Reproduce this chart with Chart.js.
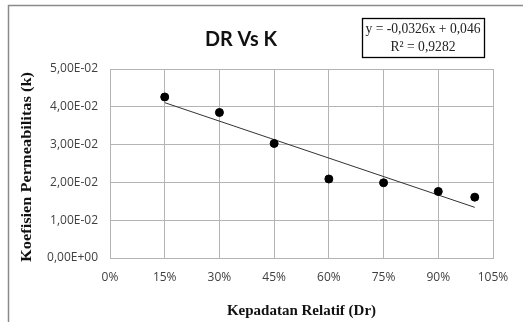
<!DOCTYPE html>
<html>
<head>
<meta charset="utf-8">
<script src="https://cdn.jsdelivr.net/npm/chart.js@4"></script>
<style>
html,body{margin:0;padding:0;background:#fff;}
#wrap{width:523px;height:322px;position:relative;}
</style>
</head>
<body>
<div id="wrap"><canvas id="c" width="523" height="322"></canvas></div>
<script>
// Data
const drValues = [0.15, 0.30, 0.45, 0.60, 0.75, 0.90, 1.00];
const kValues  = [0.0426, 0.0385, 0.0303, 0.0209, 0.0199, 0.0176, 0.0161];
const trendX = [0.15, 1.00];
const trendY = [0.0411, 0.0134];
const xTicks = [0, 0.15, 0.30, 0.45, 0.60, 0.75, 0.90, 1.05];
const yTicks = [0, 0.01, 0.02, 0.03, 0.04, 0.05];
const chartTitle = 'DR Vs K';
const equationLines = ['y = -0,0326x + 0,046', 'R\u00B2 = 0,9282'];
const xTitle = 'Kepadatan Relatif (Dr)';
const yTitle = 'Koefisien Permeabilitas (k)';

function fmtExp(v){
  if (Math.abs(v) < 1e-12) return '0,00E+00';
  let s = v.toExponential(2);
  let [m, e] = s.split('e');
  let sign = e[0] === '-' ? '-' : '+';
  let n = Math.abs(parseInt(e, 10));
  return m.replace('.', ',') + 'E' + sign + (n < 10 ? '0' + n : n);
}

function drawFitted(ctx, text, cx, cy, targetW, rot){
  const w = ctx.measureText(text).width;
  ctx.save();
  ctx.translate(cx, cy);
  if (rot) ctx.rotate(rot);
  ctx.scale(targetW / w, 1);
  ctx.fillText(text, 0, 0);
  ctx.restore();
}

const decor = {
  id: 'decor',
  beforeDraw(chart){
    const ctx = chart.ctx;
    ctx.save();
    ctx.fillStyle = '#fff';
    ctx.fillRect(0,0,chart.width,chart.height);
    ctx.strokeStyle = '#8a8a8a';
    ctx.lineWidth = 1.5;
    ctx.beginPath();
    ctx.moveTo(8.5, 323);
    ctx.lineTo(8.5, 5.5);
    ctx.lineTo(524, 5.5);
    ctx.stroke();
    ctx.restore();
  },
  afterDraw(chart){
    const ctx = chart.ctx;
    ctx.save();
    ctx.textAlign = 'center';
    ctx.textBaseline = 'middle';
    ctx.fillStyle = '#111';
    ctx.font = 'bold 20px Lato';
    drawFitted(ctx, chartTitle, 241, 39.5, 72, 0);
    // y axis title
    ctx.font = 'bold 15px "Liberation Serif"';
    drawFitted(ctx, yTitle, 27, 167, 190, -Math.PI/2);
    // equation box
    ctx.strokeStyle = '#000';
    ctx.lineWidth = 1.3;
    ctx.strokeRect(362.5, 18.5, 122, 39);
    ctx.font = '14px "Liberation Serif"';
    ctx.fillStyle = '#222';
    drawFitted(ctx, equationLines[0], 423, 29.5, 115, 0);
    drawFitted(ctx, equationLines[1], 423, 47, 65, 0);
    ctx.restore();
  }
};

new Chart(document.getElementById('c'), {
  type: 'scatter',
  data: {
    datasets: [
      {
        type: 'line',
        data: trendX.map((x,i)=>({x:x, y:trendY[i]})),
        borderColor: '#333',
        borderWidth: 1,
        pointRadius: 0,
        fill: false,
        order: 2
      },
      {
        data: drValues.map((x,i)=>({x:x, y:kValues[i]})),
        backgroundColor: '#000',
        borderColor: '#000',
        pointRadius: 4,
        order: 1
      }
    ]
  },
  options: {
    responsive: false,
    animation: false,
    devicePixelRatio: 1,
    layout: { padding: { left: 0, top: 69, right: 30, bottom: 0 } },
    plugins: { legend: {display:false}, tooltip: {enabled:false}, title:{display:false} },
    scales: {
      x: {
        type: 'linear',
        min: 0, max: 1.05,
        afterBuildTicks(scale){ scale.ticks = xTicks.map(v=>({value:v})); },
        afterFit(scale){ scale.height = 322 - 258; },
        grid: { color: '#b4b4b4', drawTicks: false, lineWidth: 1 },
        border: { color: '#b4b4b4' },
        ticks: {
          padding: 12,
          color: '#404040',
          font: { family: 'Open Sans', size: 12 },
          callback: v => Math.round(v*100) + '%'
        },
        title: {
          display: true,
          text: xTitle,
          color: '#111',
          font: { family: 'Liberation Serif', size: 15, weight: 'bold' },
          padding: { top: 4, bottom: 2 }
        }
      },
      y: {
        type: 'linear',
        min: 0, max: 0.05,
        afterBuildTicks(scale){ scale.ticks = yTicks.map(v=>({value:v})); },
        afterFit(scale){ scale.width = 110; },
        grid: { color: '#b4b4b4', drawTicks: false, lineWidth: 1 },
        border: { color: '#b4b4b4' },
        ticks: {
          padding: 12,
          color: '#404040',
          font: { family: 'Open Sans', size: 12 },
          callback: v => fmtExp(v)
        },
        title: { display: false }
      }
    }
  },
  plugins: [decor]
});
</script>
</body>
</html>
